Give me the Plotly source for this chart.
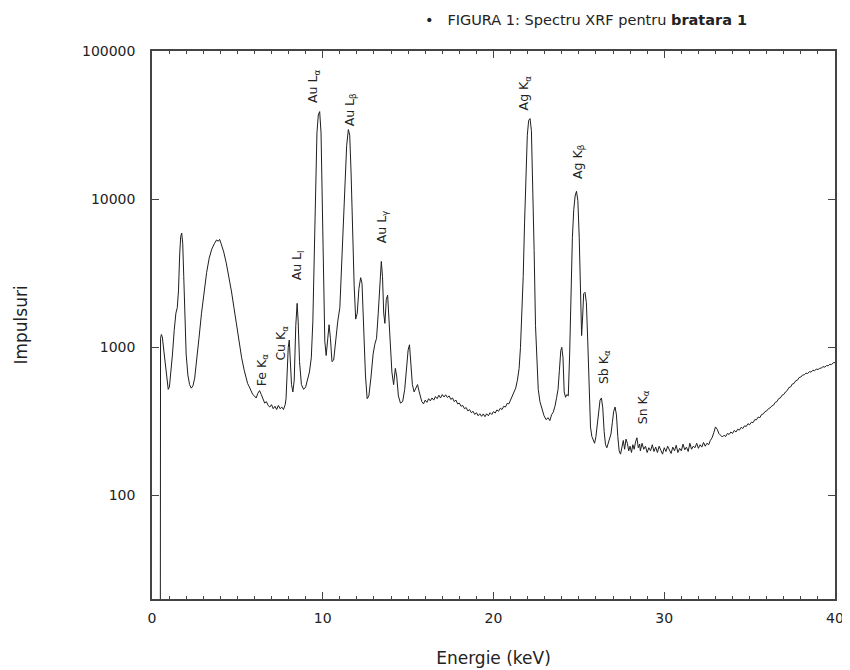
import math
import plotly.graph_objects as go

# ---- spectrum data (energy in keV, counts) ----
energy = [
    0.30, 0.48, 0.50, 0.55, 0.60, 0.65, 0.72, 0.80, 0.88, 0.95, 1.02, 1.10, 1.20, 1.30, 1.40, 1.48,
    1.55, 1.62, 1.68, 1.74, 1.80, 1.86, 1.92, 2.00, 2.10, 2.20, 2.30, 2.40, 2.50, 2.62, 2.75, 2.90,
    3.05, 3.20, 3.35, 3.50, 3.65, 3.78, 3.88, 3.96, 4.05, 4.20, 4.35, 4.50, 4.65, 4.80, 4.95, 5.10,
    5.25, 5.40,
    5.5, 5.6, 5.7, 5.8, 5.9, 6.0, 6.1, 6.2, 6.3, 6.4, 6.5, 6.6, 6.7, 6.8, 6.9, 7.0, 7.1, 7.2, 7.3,
    7.4, 7.5, 7.6, 7.7, 7.8,
    7.85, 7.92, 7.98, 8.04, 8.10, 8.17, 8.25, 8.33, 8.42, 8.50, 8.56, 8.64, 8.75, 8.88, 9.00, 9.10,
    9.22, 9.33, 9.42, 9.50, 9.58, 9.66, 9.74, 9.82, 9.90, 9.97, 10.04, 10.12, 10.20, 10.28, 10.37,
    10.45, 10.54, 10.64, 10.75, 10.88, 11.00, 11.10, 11.20, 11.30, 11.40, 11.50, 11.58, 11.66, 11.74,
    11.84, 11.93, 12.02, 12.12, 12.22, 12.30, 12.40, 12.50, 12.60, 12.70, 12.82, 12.95, 13.05, 13.15,
    13.25, 13.35, 13.43, 13.50, 13.57, 13.64, 13.72, 13.80, 13.88, 13.96, 14.05, 14.15, 14.25, 14.33,
    14.43, 14.55, 14.68, 14.80, 14.90, 15.00, 15.08, 15.16, 15.25, 15.35, 15.45, 15.55, 15.65,
    15.7, 15.8, 15.9, 16.0, 16.1, 16.2, 16.3, 16.4, 16.5, 16.6, 16.7, 16.8, 16.9, 17.0, 17.1, 17.2,
    17.3, 17.4, 17.5, 17.6, 17.7, 17.8, 17.9, 18.0, 18.1, 18.2, 18.3, 18.4, 18.5, 18.6, 18.7, 18.8,
    18.9, 19.0, 19.1, 19.2, 19.3, 19.4, 19.5, 19.6, 19.7, 19.8, 19.9, 20.0, 20.1, 20.2, 20.3, 20.4,
    20.5, 20.6, 20.7, 20.8, 20.9, 21.0, 21.1, 21.2, 21.3,
    21.40, 21.50, 21.58, 21.66, 21.74, 21.82, 21.90, 21.98, 22.06, 22.14, 22.22, 22.30, 22.38, 22.46,
    22.54, 22.62, 22.72, 22.84, 22.96, 23.08, 23.20, 23.30, 23.40, 23.50, 23.60, 23.70, 23.78, 23.86,
    23.94, 24.00, 24.07, 24.14, 24.22, 24.30, 24.38, 24.46, 24.54, 24.62, 24.70, 24.78, 24.86, 24.94,
    25.02, 25.10, 25.16, 25.22, 25.28, 25.36, 25.44, 25.52, 25.60, 25.68, 25.76, 25.84, 25.92, 26.00,
    26.08, 26.16, 26.24, 26.32, 26.40, 26.48, 26.56, 26.64, 26.72, 26.80, 26.88, 26.96, 27.04, 27.12,
    27.20, 27.28, 27.36, 27.44, 27.52, 27.60, 27.68, 27.76, 27.84, 27.92, 28.00, 28.08, 28.16, 28.24,
    28.32, 28.40, 28.48, 28.56,
    28.6, 28.7, 28.8, 28.9, 29.0, 29.1, 29.2, 29.3, 29.4, 29.5, 29.6, 29.7, 29.8, 29.9, 30.0, 30.1,
    30.2, 30.3, 30.4, 30.5, 30.6, 30.7, 30.8, 30.9, 31.0, 31.1, 31.2, 31.3, 31.4, 31.5, 31.6, 31.7,
    31.8, 31.9, 32.0, 32.1, 32.2, 32.3, 32.4, 32.5, 32.6, 32.7, 32.8, 32.9, 33.0, 33.1, 33.2, 33.3,
    33.4, 33.5, 33.6, 33.7, 33.8, 33.9, 34.0, 34.1, 34.2, 34.3, 34.4, 34.5, 34.6, 34.7, 34.8, 34.9,
    35.0, 35.1, 35.2, 35.3, 35.4, 35.5, 35.6, 35.7, 35.8, 35.9, 36.0, 36.1, 36.2, 36.3, 36.4, 36.5,
    36.6, 36.7, 36.8, 36.9, 37.0, 37.1, 37.2, 37.3, 37.4, 37.5, 37.6, 37.7, 37.8, 37.9, 38.0, 38.1,
    38.2, 38.3, 38.4, 38.5, 38.6, 38.7, 38.8, 38.9, 39.0, 39.1, 39.2, 39.3, 39.4, 39.5, 39.6, 39.7,
    39.8, 39.9, 40.0,
]

counts = [
    1, 1, 1150, 1220, 1180, 1050, 950, 800, 600, 520, 540, 650, 900, 1300, 1700, 1850,
    2400, 4200, 5600, 5900, 5000, 3000, 1600, 900, 650, 560, 530, 550, 620, 800, 1150, 1700,
    2400, 3200, 4000, 4600, 5000, 5300, 5200, 5350, 5000, 4400, 3700, 3000, 2400, 1850, 1400, 1080,
    850, 700,
    620, 570, 540, 505, 480, 470, 455, 490, 510, 480, 445, 420, 430, 405, 395, 410, 385, 400, 380,
    405, 385, 395, 380, 410,
    450, 700, 1000, 1120, 850, 560, 500, 600, 1400, 1980, 1500, 800, 560, 520, 540, 600,
    680, 850, 1500, 4000, 12000, 28000, 37000, 39000, 28000, 11000, 3500, 1100, 880, 1150, 1420,
    1150, 800, 820, 1100, 1500, 1850, 3500, 7200, 14000, 23000, 29500, 27000, 15000, 6500,
    2600, 1550, 1700, 2500, 2950, 2700, 1400, 650, 450, 470, 620, 900, 1050, 1150,
    1700, 3000, 3800, 3000, 1700, 1450, 2100, 2250, 1600, 1000, 680, 560, 720, 640,
    470, 420, 430, 520, 720, 960, 1040, 800, 560, 500, 530, 560, 500,
    470, 430, 415, 440, 425, 450, 435, 455, 440, 465, 450, 475, 455, 480, 462, 478,
    458, 470, 445, 455, 430, 440, 415, 420, 400, 405, 385, 392, 372, 380, 362, 370,
    352, 362, 345, 356, 342, 355, 340, 356, 345, 362, 352, 368, 360, 378, 370, 388,
    380, 400, 395, 418, 415, 440, 460, 495, 530,
    600, 720, 1000, 1700, 3000, 7000, 15000, 27000, 34000, 35000, 29000, 14000, 4500, 1400,
    760, 520, 430, 380, 345, 325, 335, 320, 350, 365, 400, 460, 520, 700,
    950, 1000, 850, 500, 460, 480, 470, 900, 2500, 5500, 8500, 10500, 11300, 9800,
    5500, 2200, 1200, 1600, 2300, 2350, 2000, 1100, 500, 290, 250, 235, 225, 250,
    300, 380, 440, 455, 390, 270, 220, 210, 225, 235, 260, 310, 370, 395,
    350, 250, 200, 190, 215, 235, 205, 240, 225, 200, 215, 195, 220, 205,
    230, 245, 210, 222,
    200, 225, 205, 215, 195, 210, 200, 220, 198, 212, 195, 215, 202, 190, 210, 198,
    215, 200, 192, 212, 200, 218, 195, 208, 200, 222, 203, 212, 198, 225, 205, 215,
    210, 225, 208, 220, 212, 228, 215, 225, 220, 235, 245, 265, 290, 280, 262, 255,
    248, 255, 250, 262, 258, 268, 262, 275, 268, 280, 276, 288, 283, 295, 292, 305,
    300, 312, 310, 325, 324, 338, 335, 352, 355, 368, 372, 385, 390, 402, 407, 425,
    430, 450, 455, 475, 480, 500, 510, 535, 540, 565, 570, 595, 600, 625, 630, 650,
    652, 670, 665, 685, 680, 700, 695, 712, 708, 721, 725, 740, 735, 752, 750, 768,
    765, 785, 790,
]

# ---- peak labels ----
label_text = ["Fe K<sub>α</sub>", "Cu K<sub>α</sub>", "Au L<sub>l</sub>", "Au L<sub>α</sub>",
              "Au L<sub>β</sub>", "Au L<sub>γ</sub>", "Ag K<sub>α</sub>", "Ag K<sub>β</sub>",
              "Sb K<sub>α</sub>", "Sn K<sub>α</sub>"]
label_x = [6.44, 7.60, 8.50, 9.43, 11.60, 13.47, 21.84, 24.94, 26.46, 28.75]
label_logy = [2.845, 3.030, 3.554, 4.757, 4.600, 3.810, 4.720, 4.250, 2.865, 2.595]

y_ticks = [100, 1000, 10000, 100000]
x_ticks = [0, 10, 20, 30, 40]

FONT = "DejaVu Sans"
AX = "#444444"

fig = go.Figure()
fig.add_trace(go.Scatter(x=energy, y=counts, mode="lines",
                         line=dict(color="#1e1e1e", width=1.0), showlegend=False))

for t, x, ly in zip(label_text, label_x, label_logy):
    fig.add_annotation(x=x, y=ly, xref="x", yref="y", text=t, textangle=-90,
                       showarrow=False, xanchor="center", yanchor="middle",
                       font=dict(family=FONT, size=12.5, color="#222"))

fig.add_annotation(x=0.397, y=1.056, xref="paper", yref="paper", xanchor="left", yanchor="middle",
                   text="•   FIGURA 1: Spectru XRF pentru <b>bratara 1</b>", showarrow=False,
                   font=dict(family=FONT, size=14.5, color="#222"))

# page body has an 8px margin, so the figure is 842x662 and offsets are compensated
fig.update_layout(
    width=842, height=662,
    margin=dict(l=144, r=15, t=43, b=71),
    paper_bgcolor="white", plot_bgcolor="white",
    font=dict(family=FONT, size=14, color="#222"),
    xaxis=dict(range=[0, 40], tickvals=x_ticks, ticktext=[str(v) for v in x_ticks],
               ticks="inside", ticklen=7, tickwidth=1.2, tickcolor=AX,
               minor=dict(ticks="inside", dtick=1, ticklen=3, tickcolor=AX, tickwidth=1),
               showline=True, linecolor=AX, linewidth=1.5, mirror="ticks",
               showgrid=False, zeroline=False, ticklabelstandoff=5,
               title=dict(text="Energie (keV)", font=dict(family=FONT, size=17, color="#222"),
                          standoff=28),
               automargin=False),
    yaxis=dict(type="log", range=[math.log10(20), 5], tickvals=y_ticks,
               ticktext=[str(v) for v in y_ticks],
               ticks="inside", ticklen=7, tickwidth=1.2, tickcolor=AX,
               showline=True, linecolor=AX, linewidth=1.5, mirror="ticks",
               showgrid=False, zeroline=False, ticklabelstandoff=12,
               title=dict(text="Impulsuri", font=dict(family=FONT, size=17, color="#222"),
                          standoff=50),
               automargin=False),
)

fig.write_html("out.html")
